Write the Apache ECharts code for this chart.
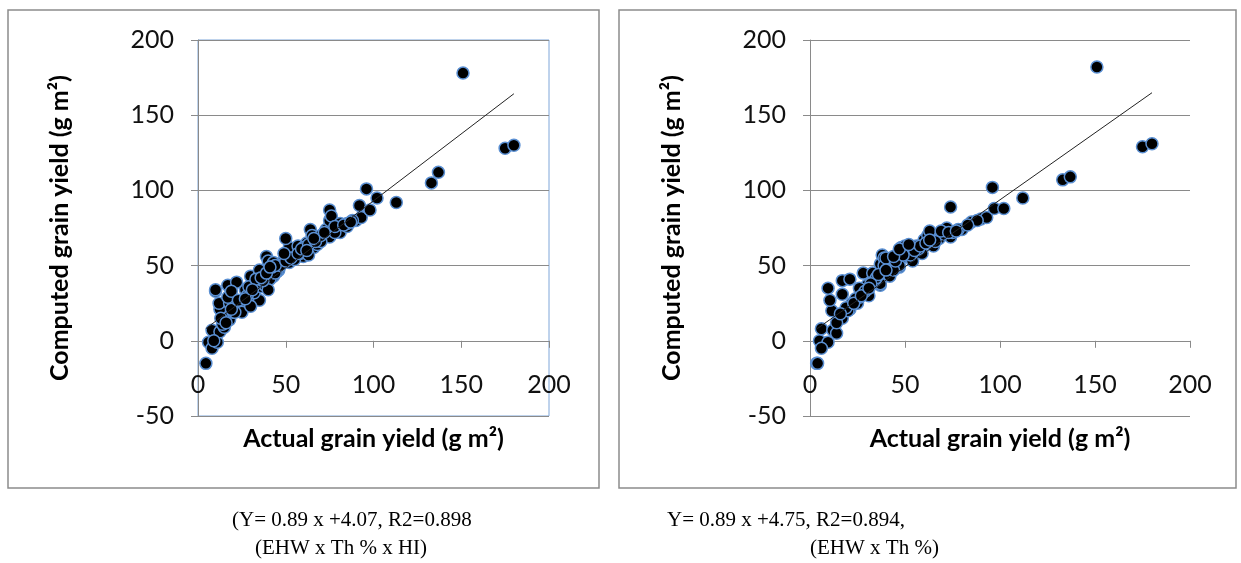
<!DOCTYPE html>
<html>
<head>
<meta charset="utf-8">
<script src="https://cdn.jsdelivr.net/npm/echarts@6/dist/echarts.min.js"></script>
<style>
  html, body { margin: 0; padding: 0; background: #fff; }
  #chart { width: 1241px; height: 563px; }
</style>
</head>
<body>
<div id="chart"></div>
<script>
// 左图 (EHW x Th % x HI)
var leftActual = [4.5, 6, 8, 11, 8, 12.5, 15, 14, 18, 15, 20, 12.5, 22, 26, 12, 18, 24, 25, 17, 31, 35, 10, 10, 27, 32, 17, 22, 36, 38, 30, 35, 43, 41, 40, 35, 43, 46, 45, 39, 40, 48, 43, 52, 52, 54, 60, 56, 52, 57, 62, 66, 50, 64, 65, 68, 71, 73, 75, 75, 75, 76, 81, 81, 85, 90, 93, 92, 96, 98, 102, 113, 133, 137, 151, 175, 180, 25, 30, 21, 28, 33, 37, 44, 47, 55, 58, 61, 68, 70, 78, 85, 88, 9, 13, 19, 29, 63, 60,
  33, 36, 42, 44, 50, 53, 57, 59, 63, 67, 70, 72, 19, 23, 27, 16, 31, 39, 41, 49, 62, 66, 78, 83, 87];
var leftComputed = [-15, -1, -5, -1, 7, 6, 9, 11, 14, 17, 19, 21, 22, 23, 25, 25, 25, 27, 29, 29, 27, 33, 34, 34, 32, 37, 39, 36, 37, 43, 44, 43, 41, 34, 47, 47, 47, 46, 56, 53, 52, 52, 52, 56, 57, 56, 59, 62, 63, 65, 62, 68, 74, 70, 67, 69, 74, 69, 80, 87, 83, 72, 78, 76, 80, 82, 90, 101, 87, 95, 92, 105, 112, 178, 128, 130, 19, 23, 19, 30, 38, 40, 45, 50, 54, 58, 60, 64, 66, 72, 78, 80, 0, 15, 33, 36, 57, 62,
  41, 42, 49, 50, 53, 55, 58, 61, 64, 66, 70, 72, 21, 27, 28, 12, 34, 45, 49, 58, 60, 68, 76, 77, 79];

// 右图 (EHW x Th %)
var rightActual = [3.5, 4, 5, 9.5, 6, 6, 12, 14, 17, 11.5, 21, 20, 10.5, 17, 25, 22, 26, 31, 30, 9.5, 17, 21, 26, 37, 37, 28, 33, 42, 41, 37, 38, 39, 43, 43, 47, 46, 39, 40, 42, 48, 47, 54, 48, 51, 52, 56, 50, 59, 60, 65, 62, 65, 64, 63, 72, 74, 75, 80, 85, 90, 93, 74, 97, 102, 96, 112, 133, 137, 151, 175, 180, 14, 19, 24, 29, 34, 44, 53, 57, 68, 70, 78, 88, 35,
  32, 36, 40, 45, 49, 55, 58, 61, 66, 69, 73, 77, 83, 16, 23, 27, 31, 44, 47, 52, 63];
var rightComputed = [-15, -15, 0, -1, -5, 8, 7, 5, 15, 20, 21, 20, 27, 31, 25, 25, 29, 30, 37, 35, 40, 41, 35, 37, 38, 45, 45, 45, 45, 51, 57, 55, 51, 52, 49, 51, 50, 55, 43, 55, 50, 53, 62, 60, 59, 63, 63, 58, 67, 63, 70, 70, 69, 73, 75, 69, 72, 74, 79, 81, 82, 89, 88, 88, 102, 95, 107, 109, 182, 129, 131, 12, 22, 28, 33, 40, 47, 57, 61, 68, 71, 74, 80, 42,
  38, 44, 47, 53, 57, 60, 63, 65, 66, 73, 72, 73, 77, 18, 25, 30, 35, 56, 61, 64, 67];

// 回归系数 [斜率, 截距]
var leftFit = [0.89, 4.07];
var rightFit = [0.89, 4.75];

var yTicks = [-50, 0, 50, 100, 150, 200];
var xTicks = [0, 50, 100, 150, 200];

var xTitle = 'Actual grain yield (g m\u00b2)';
var yTitle = 'Computed grain yield (g m\u00b2)';
var leftCaption = ['(Y= 0.89 x +4.07, R2=0.898', '(EHW x Th % x HI)'];
var rightCaption = ['Y= 0.89 x +4.75, R2=0.894,', '(EHW x Th %)'];

function zip(xs, ys) {
  return xs.map(function (x, i) { return [x, ys[i]]; });
}
function trend(xs, fit) {
  var lo = Math.min.apply(null, xs), hi = Math.max.apply(null, xs);
  return [[lo, fit[0] * lo + fit[1]], [hi, fit[0] * hi + fit[1]]];
}

var myChart = echarts.init(document.getElementById('chart'));
var font = 'Lato, "Open Sans", sans-serif';
var gray = '#8a8a8a';
var plotTop = 40, plotH = 376;
// x 轴放在 y=0 处
var zeroShift = -plotH * (0 - yTicks[0]) / (yTicks[yTicks.length - 1] - yTicks[0]);

function xAxisOf(idx) {
  return {
    type: 'value', gridIndex: idx,
    min: xTicks[0], max: xTicks[xTicks.length - 1], interval: 50,
    offset: zeroShift,
    name: xTitle, nameLocation: 'middle', nameGap: 86,
    nameTextStyle: { fontFamily: font, fontSize: 25, fontWeight: 'bold', color: '#000' },
    axisLine: { onZero: false, lineStyle: { color: gray } },
    axisTick: { inside: false, length: 7, lineStyle: { color: gray } },
    axisLabel: { margin: 32, fontFamily: font, fontSize: 25, color: '#111' },
    splitLine: { show: false }
  };
}
function yAxisOf(idx) {
  return {
    type: 'value', gridIndex: idx,
    min: yTicks[0], max: yTicks[yTicks.length - 1], interval: 50,
    name: yTitle, nameLocation: 'middle', nameGap: 126,
    nameTextStyle: { fontFamily: font, fontSize: 25, fontWeight: 'bold', color: '#000' },
    axisLine: { show: true, onZero: false, lineStyle: { color: gray } },
    axisTick: { show: true, length: 7, lineStyle: { color: gray } },
    axisLabel: { margin: 24, fontFamily: font, fontSize: 25, color: '#111' },
    splitLine: { show: true, lineStyle: { color: gray, width: 1 } }
  };
}
function scatterOf(idx, data) {
  return {
    type: 'scatter', xAxisIndex: idx, yAxisIndex: idx,
    data: data, symbolSize: 12, z: 2,
    itemStyle: { color: '#000', borderColor: '#5a8fd2', borderWidth: 1.5, opacity: 1 }
  };
}
function lineOf(idx, data) {
  return {
    type: 'line', xAxisIndex: idx, yAxisIndex: idx,
    data: data, symbol: 'none', z: 3, silent: true,
    lineStyle: { color: '#222', width: 1 }
  };
}

function captionText(x, y, txt) {
  return {
    type: 'text', left: x, top: y,
    style: { text: txt, font: '21px "Liberation Serif", "Times New Roman", serif', fill: '#000' }
  };
}

var option = {
  backgroundColor: '#fff',
  animation: false,
  grid: [
    { left: 198, top: plotTop, width: 351, height: plotH, show: true, borderColor: '#7fa6d9', borderWidth: 1, backgroundColor: 'transparent' },
    { left: 810, top: plotTop, width: 380, height: plotH, show: false }
  ],
  xAxis: [xAxisOf(0), xAxisOf(1)],
  yAxis: [yAxisOf(0), yAxisOf(1)],
  series: [
    scatterOf(0, zip(leftActual, leftComputed)),
    lineOf(0, trend(leftActual, leftFit)),
    scatterOf(1, zip(rightActual, rightComputed)),
    lineOf(1, trend(rightActual, rightFit))
  ],
  graphic: [
    { type: 'rect', shape: { x: 8, y: 10, width: 591, height: 478 }, style: { fill: 'none', stroke: '#8c8c8c', lineWidth: 1.5 }, z: -1 },
    { type: 'rect', shape: { x: 619, y: 10, width: 617, height: 478 }, style: { fill: 'none', stroke: '#8c8c8c', lineWidth: 1.5 }, z: -1 },
    captionText(232, 510, leftCaption[0]),
    captionText(255, 538, leftCaption[1]),
    captionText(667, 510, rightCaption[0]),
    captionText(810, 538, rightCaption[1])
  ]
};

myChart.setOption(option);
window.addEventListener('resize', function () {
  myChart.resize();
});
</script>
</body>
</html>
